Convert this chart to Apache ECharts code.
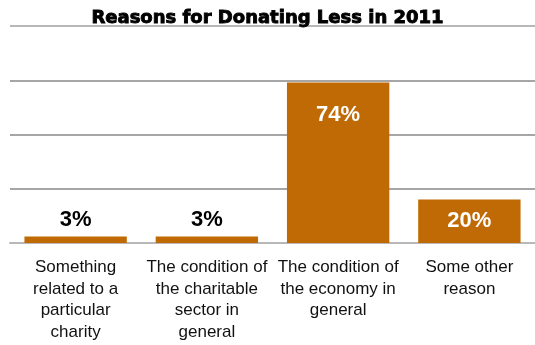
<!DOCTYPE html>
<html>
<head>
<meta charset="utf-8">
<script src="https://cdn.jsdelivr.net/npm/echarts@6/dist/echarts.min.js"></script>
<style>
  html, body { margin: 0; padding: 0; background: #fff; }
  #chart { width: 535px; height: 345px; }
</style>
</head>
<body>
<div id="chart"></div>
<script>
// Reasons given for giving less, share of respondents (%)
const categories = [
  'Something\nrelated to a\nparticular\ncharity',
  'The condition of\nthe charitable\nsector in\ngeneral',
  'The condition of\nthe economy in\ngeneral',
  'Some other\nreason'
];
const shares = [3, 3, 74, 20];
const labelInside = [false, false, true, true];

const BAR = '#bf6a05';

const chart = echarts.init(document.getElementById('chart'));

const data = shares.map((v, i) => {
  const item = { value: v };
  if (labelInside[i]) {
    item.label = {
      position: v > 50 ? 'insideTop' : 'inside',
      distance: 22,
      color: '#ffffff'
    };
  }
  return item;
});

chart.setOption({
  animation: false,
  title: {
    text: 'Reasons for Donating Less in 2011',
    left: 'center',
    top: 4,
    textStyle: {
      fontFamily: 'DejaVu Sans',
      fontWeight: 'bold',
      fontSize: 18,
      color: '#000',
      textBorderColor: '#000',
      textBorderWidth: 0.9
    }
  },
  grid: { left: 10, right: 0, top: 26, bottom: 102 },
  xAxis: {
    type: 'category',
    data: categories,
    axisTick: { show: false },
    axisLine: { show: true, lineStyle: { color: '#b8b8b8', width: 2 } },
    axisLabel: {
      interval: 0,
      margin: 14,
      fontFamily: 'Liberation Sans, Arial, sans-serif',
      fontSize: 17,
      lineHeight: 21.5,
      color: '#111'
    }
  },
  yAxis: {
    type: 'value',
    min: 0,
    max: 100,
    interval: 25,
    axisLabel: { show: false },
    axisLine: { show: false },
    axisTick: { show: false },
    splitLine: {
      lineStyle: {
        color: ['#b8b8b8', '#a6a6a6', '#a6a6a6', '#a6a6a6', '#b8b8b8'],
        width: 2
      }
    }
  },
  series: [{
    type: 'bar',
    data: data,
    barCategoryGap: '22%',
    itemStyle: { color: BAR },
    label: {
      show: true,
      position: 'top',
      distance: 6,
      formatter: '{c}%',
      fontFamily: 'Liberation Sans, Arial, sans-serif',
      fontWeight: 'bold',
      fontSize: 22,
      color: '#000'
    }
  }]
});
</script>
</body>
</html>
